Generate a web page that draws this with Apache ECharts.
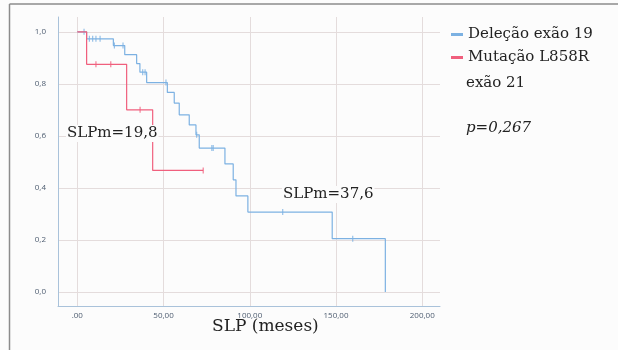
<!DOCTYPE html>
<html>
<head>
<meta charset="utf-8">
<script src="https://cdn.jsdelivr.net/npm/echarts@6/dist/echarts.min.js"></script>
<style>
  html, body { margin: 0; padding: 0; background: #fcfcfc; }
  #chart { width: 618px; height: 350px; }
</style>
</head>
<body>
<div id="chart"></div>
<script>
// curvas de Kaplan-Meier: [tempo (meses), sobrevida] após cada evento
var delecao19 = [[0, 1], [5.4, 0.973], [20.9, 0.947], [27.5, 0.912], [34.4, 0.878], [36.3, 0.845],
    [40.2, 0.805], [52.2, 0.767], [56.2, 0.726], [59.1, 0.681], [64.9, 0.642], [68.8, 0.604],
    [70.7, 0.553], [85.6, 0.492], [90.4, 0.431], [92.0, 0.369], [98.9, 0.307], [147.8, 0.205],
    [178.6, 0]];
var mutacaoL858R = [[0, 1], [5.4, 0.875], [28.6, 0.70], [43.7, 0.467], [73.0, 0.467]];
// tempos censurados
var censDelecao = [3.9, 7.0, 8.9, 10.8, 13.2, 21.5, 26.5, 37.9, 39.3, 51.4, 69.2, 78.0, 78.8, 119.1, 159.7];
var censMutacao = [10.8, 19.4, 36.4, 73.0];

var xTicks = [0, 50, 100, 150, 200];
var xTickLabels = ['.00', '50,00', '100,00', '150,00', '200,00'];
var yTicks = [0, 0.2, 0.4, 0.6, 0.8, 1.0];
var yTickLabels = ['0,0', '0,2', '0,4', '0,6', '0,8', '1,0'];

var azul = '#7cb1e2';
var vermelho = '#f05f7d';

// valor da curva no instante t (degrau)
function nivel(curva, t) {
    var s = curva[0][1];
    for (var i = 0; i < curva.length; i++) {
        if (curva[i][0] <= t) s = curva[i][1];
    }
    return s;
}
function marcas(curva, tempos) {
    return tempos.map(function (t) { return [t, nivel(curva, t)]; });
}
function rotulo(ticks, labels, v) {
    for (var i = 0; i < ticks.length; i++) {
        if (Math.abs(ticks[i] - v) < 1e-6) return labels[i];
    }
    return '';
}

var chart = echarts.init(document.getElementById('chart'));
var serif = 'DejaVu Serif';

var option = {
    backgroundColor: '#fcfcfc',
    animation: false,
    grid: { left: 58, right: 178, top: 17, bottom: 44, containLabel: false },
    legend: {
        orient: 'vertical',
        left: 446,
        top: 22,
        itemWidth: 12,
        itemHeight: 3,
        itemGap: 8,
        icon: 'rect',
        data: ['Deleção exão 19', 'Mutação L858R'],
        textStyle: { fontFamily: serif, fontSize: 15, color: '#222' }
    },
    xAxis: {
        type: 'value',
        min: -11.2,
        max: 210.3,
        axisLine: { show: true, onZero: false, lineStyle: { color: '#a9c2da', width: 1 } },
        axisTick: { show: false },
        axisLabel: {
            showMinLabel: false, showMaxLabel: false,
            margin: 6, fontSize: 8, color: '#4d5c70', fontFamily: 'Open Sans',
            formatter: function (v) { return rotulo(xTicks, xTickLabels, v); }
        },
        splitLine: { show: true, showMinLine: false, showMaxLine: false, lineStyle: { color: '#e4dcdc', width: 1 } }
    },
    yAxis: {
        type: 'value',
        min: -0.054,
        max: 1.057,
        axisLine: { show: true, onZero: false, lineStyle: { color: '#a9c2da', width: 1 } },
        axisTick: { show: false },
        axisLabel: {
            showMinLabel: false, showMaxLabel: false,
            margin: 12, fontSize: 8, color: '#4d5c70', fontFamily: 'Open Sans',
            formatter: function (v) { return rotulo(yTicks, yTickLabels, v); }
        },
        splitLine: { show: true, showMinLine: false, showMaxLine: false, lineStyle: { color: '#e4dcdc', width: 1 } }
    },
    series: [
        {
            name: 'Deleção exão 19',
            type: 'line',
            step: 'end',
            showSymbol: false,
            data: delecao19,
            itemStyle: { color: azul },
            lineStyle: { color: azul, width: 1.2 }
        },
        {
            name: 'Mutação L858R',
            type: 'line',
            step: 'end',
            showSymbol: false,
            data: mutacaoL858R,
            itemStyle: { color: vermelho },
            lineStyle: { color: vermelho, width: 1.2 }
        },
        {
            name: 'cens1',
            type: 'scatter',
            symbol: 'rect',
            symbolSize: [1.2, 6],
            data: marcas(delecao19, censDelecao),
            itemStyle: { color: azul }
        },
        {
            name: 'cens2',
            type: 'scatter',
            symbol: 'rect',
            symbolSize: [1.2, 6],
            data: marcas(mutacaoL858R, censMutacao),
            itemStyle: { color: vermelho }
        }
    ],
    graphic: [
        { type: 'line', shape: { x1: 9.5, y1: 4, x2: 618, y2: 4 }, style: { stroke: '#8c8c8c', lineWidth: 1.5 } },
        { type: 'line', shape: { x1: 9.5, y1: 4, x2: 9.5, y2: 350 }, style: { stroke: '#8c8c8c', lineWidth: 1.5 } },
        { type: 'text', left: 466, top: 76, style: { text: 'exão 21', font: '15px "' + serif + '"', fill: '#222' } },
        { type: 'text', left: 466, top: 121, style: { text: 'p=0,267', font: 'italic 15px "' + serif + '"', fill: '#222' } },
        { type: 'text', left: 66, top: 125, z: 100, style: { text: 'SLPm=19,8', font: '15px "' + serif + '"', fill: '#222', backgroundColor: '#fcfcfc', padding: [1, 1] } },
        { type: 'text', left: 282, top: 186, z: 100, style: { text: 'SLPm=37,6', font: '15px "' + serif + '"', fill: '#222', backgroundColor: '#fcfcfc', padding: [1, 1] } },
        { type: 'text', left: 212, top: 318, style: { text: 'SLP (meses)', font: '17px "' + serif + '"', fill: '#222' } }
    ]
};
chart.setOption(option);
</script>
</body>
</html>
